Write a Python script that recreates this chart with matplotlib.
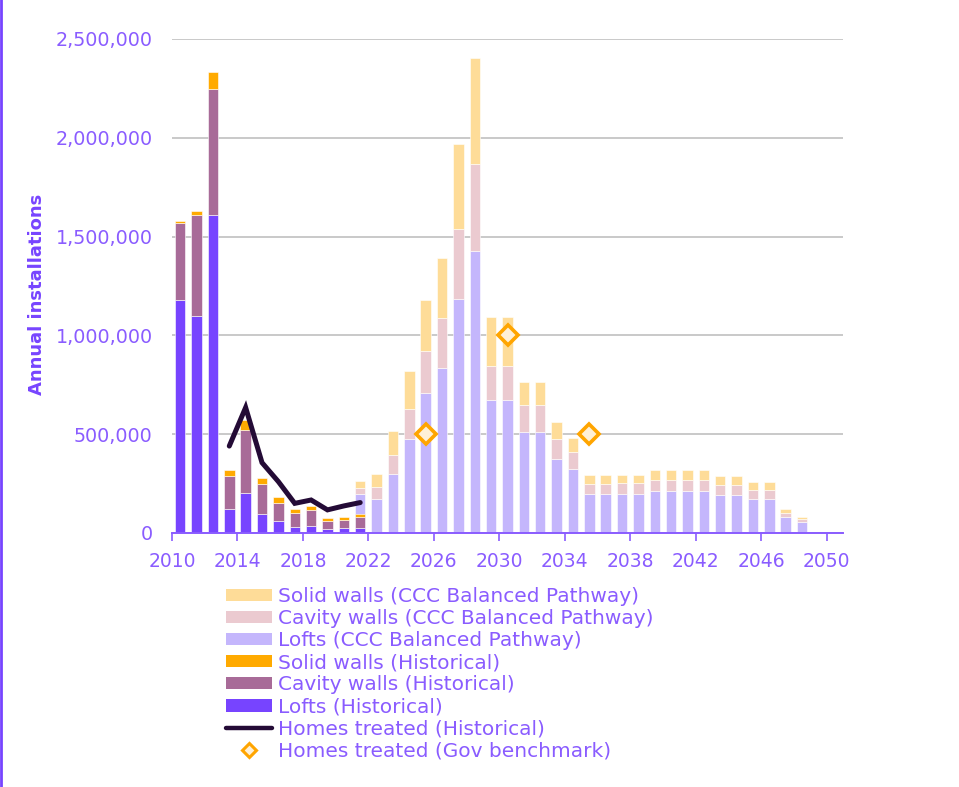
import matplotlib
matplotlib.use("Agg")
import matplotlib.pyplot as plt
import numpy as np
from matplotlib.lines import Line2D
from matplotlib.patches import Patch
from matplotlib.ticker import FuncFormatter

# ---------------- data ----------------
hist_years = list(range(2010, 2022))
hist_lofts = [1180000, 1098000, 1608000, 123000, 204000, 98000, 62000, 32000, 37000, 20000, 27000, 27000]
hist_cavity = [387000, 512000, 640000, 166000, 316000, 149000, 90000, 69000, 80000, 42000, 41000, 54000]
hist_solid = [14000, 20000, 83000, 29000, 51000, 33000, 30000, 21000, 20000, 12000, 11000, 17000]

treated_years = list(range(2013, 2022))
treated_hist = [440000, 635000, 356000, 260000, 150000, 167000, 117000, 137000, 154000]

ccc_years = list(range(2021, 2049))
ccc_lofts = [196000, 172000, 299000, 476000, 706000, 836000, 1182000, 1429000, 674000, 674000,
             510000, 510000, 375000, 323000, 196000, 196000, 198000, 198000, 213000, 213000,
             213000, 213000, 193000, 193000, 172000, 172000, 79000, 54000]
ccc_cavity = [32000, 59000, 95000, 152000, 216000, 253000, 357000, 439000, 172000, 172000,
              139000, 139000, 101000, 89000, 52000, 52000, 54000, 54000, 54000, 54000,
              54000, 54000, 50000, 50000, 48000, 48000, 22000, 15000]
ccc_solid = [35000, 70000, 121000, 193000, 257000, 304000, 429000, 535000, 247000, 247000,
             114000, 114000, 86000, 71000, 44000, 44000, 44000, 44000, 51000, 51000,
             51000, 51000, 44000, 44000, 38000, 38000, 19000, 12000]

bench_years = [2025, 2030, 2035]
bench_vals = [500000, 1000000, 500000]

xtick_years = list(range(2010, 2051, 4))
yticks = [0, 500000, 1000000, 1500000, 2000000, 2500000]

# ---------------- style ----------------
C_LOFT_H = "#7744FF"
C_CAV_H = "#A86B98"
C_SOL_H = "#FFAA00"
C_LOFT_C = "#C4B6FC"
C_CAV_C = "#EBCAD0"
C_SOL_C = "#FEDC98"
C_LINE = "#240B36"
C_TEXT = "#8A5CFF"
C_AXIS = "#8A5CFF"
C_GRID = "#C0C0C0"

plt.rcParams['font.family'] = ['DejaVu Sans']

fig = plt.figure(figsize=(9.59, 7.87), dpi=100)
ax = fig.add_axes([172/959, 1-533/787, (843-172)/959, (533-39)/787])

W = 0.64
off = 0.5

cx = np.array(ccc_years) + off
cl = np.array(ccc_lofts)
cc = np.array(ccc_cavity)
cs = np.array(ccc_solid)
ax.bar(cx, cl, W, color=C_LOFT_C, edgecolor="white", linewidth=0.4, zorder=2)
ax.bar(cx, cc, W, bottom=cl, color=C_CAV_C, edgecolor="white", linewidth=0.4, zorder=2)
ax.bar(cx, cs, W, bottom=cl+cc, color=C_SOL_C, edgecolor="white", linewidth=0.4, zorder=2)

hx = np.array(hist_years) + off
hl = np.array(hist_lofts)
hc = np.array(hist_cavity)
hs = np.array(hist_solid)
ax.bar(hx, hl, W, color=C_LOFT_H, edgecolor="white", linewidth=0.4, zorder=3)
ax.bar(hx, hc, W, bottom=hl, color=C_CAV_H, edgecolor="white", linewidth=0.4, zorder=3)
ax.bar(hx, hs, W, bottom=hl+hc, color=C_SOL_H, edgecolor="white", linewidth=0.4, zorder=3)

ax.plot(np.array(treated_years) + off, treated_hist, color=C_LINE, lw=3.6,
        solid_capstyle="round", solid_joinstyle="miter", zorder=5)
ax.plot(np.array(bench_years) + off, bench_vals, linestyle="none", marker="D",
        markersize=10, markerfacecolor="#FFF0D6", markeredgecolor="#FFA500",
        markeredgewidth=2.6, zorder=6)

ax.set_xlim(2010, 2051)
ax.set_ylim(0, 2500000)
ax.set_xticks(xtick_years)
ax.set_xticklabels([str(y) for y in xtick_years])
ax.set_yticks(yticks)
ax.yaxis.set_major_formatter(FuncFormatter(lambda v, p: f"{int(v):,}"))

ax.grid(axis="y", color=C_GRID, linewidth=1.2, zorder=0)
ax.set_axisbelow(True)
for s in ["top", "right", "left"]:
    ax.spines[s].set_visible(False)
ax.spines["bottom"].set_color(C_AXIS)
ax.spines["bottom"].set_linewidth(1.4)
ax.spines["bottom"].set_zorder(7)
ax.tick_params(axis="x", colors=C_AXIS, labelcolor=C_TEXT, length=6, width=1.2,
               direction="out", labelsize=13.5, pad=8)
ax.tick_params(axis="y", length=0, labelcolor=C_TEXT, labelsize=13.8, pad=14)

fig.text(37/959, 1-294/787, "Annual installations", rotation=90, ha="center", va="center",
         color="#7744FF", fontsize=13, fontweight="bold")

# left border line
fig.add_artist(Line2D([0.0015, 0.0015], [0, 1], color="#7744FF", lw=2, transform=fig.transFigure))

handles = [
    Patch(facecolor=C_SOL_C, edgecolor="none"),
    Patch(facecolor=C_CAV_C, edgecolor="none"),
    Patch(facecolor=C_LOFT_C, edgecolor="none"),
    Patch(facecolor=C_SOL_H, edgecolor="none"),
    Patch(facecolor=C_CAV_H, edgecolor="none"),
    Patch(facecolor=C_LOFT_H, edgecolor="none"),
    Line2D([], [], color=C_LINE, lw=3.2, solid_capstyle="round"),
    Line2D([], [], linestyle="none", marker="D", markersize=7, markerfacecolor="#FFF0D6",
           markeredgecolor="#FFA500", markeredgewidth=2.2),
]
labels = [
    "Solid walls (CCC Balanced Pathway)",
    "Cavity walls (CCC Balanced Pathway)",
    "Lofts (CCC Balanced Pathway)",
    "Solid walls (Historical)",
    "Cavity walls (Historical)",
    "Lofts (Historical)",
    "Homes treated (Historical)",
    "Homes treated (Gov benchmark)",
]
leg = fig.legend(handles, labels, loc="upper left", bbox_to_anchor=(226/959, 1-587/787),
                 frameon=False, fontsize=14.5, handlelength=2.3, handleheight=0.55,
                 handletextpad=0.28, labelspacing=0.155, borderpad=0, borderaxespad=0)
for t in leg.get_texts():
    t.set_color(C_TEXT)

fig.savefig("out.png", dpi=100, facecolor="white")
